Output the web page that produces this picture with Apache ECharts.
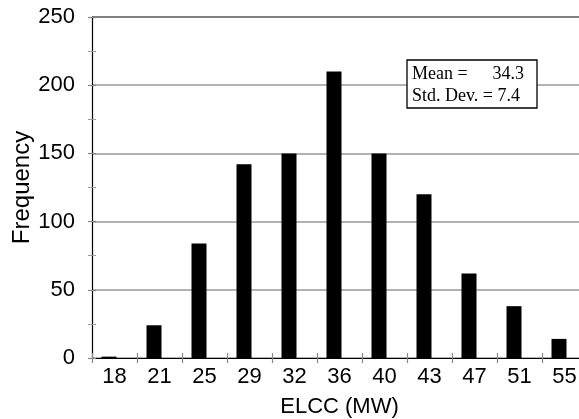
<!DOCTYPE html>
<html><head><meta charset="utf-8">
<script src="https://cdn.jsdelivr.net/npm/echarts@6/dist/echarts.min.js"></script>
<style>html,body{margin:0;padding:0;background:#fff}#c{width:579px;height:419px}</style>
</head><body><div id="c"></div>
<script>
const categories = ['18','21','25','29','32','36','40','43','47','51','55'];
const frequency = [1, 24, 84, 142, 150, 210, 150, 120, 62, 38, 14];
const yTicks = [0, 50, 100, 150, 200, 250];
const statsLines = ['Mean =', '34.3', 'Std. Dev. = 7.4'];

const chart = echarts.init(document.getElementById('c'), null, {renderer: 'canvas'});
const font = 'Liberation Sans, Arial, sans-serif';
const serif = '18px "Liberation Serif", "Times New Roman", serif';
chart.setOption({
  animation: false,
  backgroundColor: '#fff',
  grid: {left: 92, top: 17, bottom: 61, right: -8, containLabel: false, outerBoundsMode: 'none'},
  xAxis: [{
    type: 'category', data: categories, position: 'bottom',
    name: 'ELCC (MW)', nameLocation: 'middle', nameGap: 38, nameMoveOverlap: false,
    nameTextStyle: {fontFamily: font, fontSize: 22, color: '#000'},
    axisLine: {show: true, lineStyle: {color: '#000', width: 1.2}},
    axisTick: {show: true, alignWithLabel: false, length: 5, lineStyle: {color: '#888', width: 1.2}},
    axisLabel: {fontFamily: font, fontSize: 22, color: '#000', margin: 8},
    splitLine: {show: false}
  }, {
    type: 'category', data: categories, position: 'bottom', gridIndex: 0,
    axisLine: {show: false},
    axisTick: {show: true, inside: true, alignWithLabel: false, length: 5, lineStyle: {color: '#888', width: 1.2}},
    axisLabel: {show: false}, splitLine: {show: false}
  }],
  yAxis: [{
    type: 'value', min: 0, max: 250, interval: 50,
    name: 'Frequency', nameLocation: 'middle', nameGap: 58, nameRotate: 90, nameMoveOverlap: false,
    nameTextStyle: {fontFamily: font, fontSize: 24, color: '#000'},
    axisLine: {show: true, lineStyle: {color: '#000', width: 1.2}},
    axisTick: {show: true, length: 4, lineStyle: {color: '#888', width: 1.2}},
    minorTick: {show: true, splitNumber: 2, length: 4, lineStyle: {color: '#999', width: 1}},
    axisLabel: {fontFamily: font, fontSize: 22, color: '#000', margin: 17,
      formatter: v => yTicks.includes(v) ? String(v) : ''},
    splitLine: {show: true, lineStyle: {color: ['#999','#999','#999','#999','#999','#555'], width: 1.5}}
  }, {
    type: 'value', min: 0, max: 250, interval: 50, position: 'left',
    axisLine: {show: false},
    axisTick: {show: true, inside: true, length: 4, lineStyle: {color: '#888', width: 1.2}},
    minorTick: {show: true, splitNumber: 2, length: 4, lineStyle: {color: '#999', width: 1}},
    axisLabel: {show: false}, splitLine: {show: false}
  }],
  series: [{
    type: 'bar', data: frequency, barWidth: 15, barGap: '-26.7%',
    itemStyle: {color: '#000'}, z: 3
  }, {
    type: 'bar', data: frequency.map(() => 0), barWidth: 15,
    itemStyle: {color: 'rgba(0,0,0,0)'}, silent: true
  }],
  graphic: [
    {type: 'rect', shape: {x: 407, y: 60, width: 130, height: 48},
     style: {fill: '#fff', stroke: '#000', lineWidth: 1.3}, z: 10},
    {type: 'text', x: 412, y: 74.5, z: 11,
     style: {text: statsLines[0], font: serif, fill: '#000', verticalAlign: 'middle'}},
    {type: 'text', x: 524, y: 74.5, z: 11,
     style: {text: statsLines[1], font: serif, fill: '#000', align: 'right', verticalAlign: 'middle'}},
    {type: 'text', x: 412, y: 96, z: 11,
     style: {text: statsLines[2], font: serif, fill: '#000', verticalAlign: 'middle'}}
  ]
});
</script></body></html>
